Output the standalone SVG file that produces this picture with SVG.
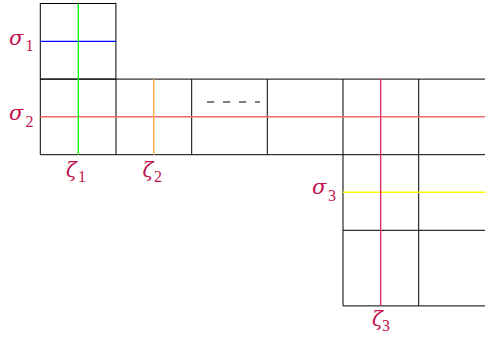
<svg xmlns="http://www.w3.org/2000/svg" width="485" height="339" viewBox="0 0 485 339">
<style>
.g{stroke:#000;stroke-width:1;fill:none}
.lbl{font-family:"Liberation Serif","DejaVu Serif",serif;fill:#C0124E}
.sg{font-family:"DejaVu Serif",serif;font-style:italic;font-size:21px}
.z{font-family:"DejaVu Serif",serif;font-style:italic;font-size:20px}
.s{font-size:16px}
</style>
<rect width="485" height="339" fill="#fff"/>
<g id="grid">
  <g id="top-cell"><rect class="g" x="40.3" y="3.5" width="75.6" height="75.6"/></g>
  <g id="row">
    <path class="g" d="M40.3 79.1H494.3M40.3 154.7H494.3M40.3 79.1V154.7M116 79.1V154.7M191.7 79.1V154.7M267.3 79.1V154.7M343 79.1V154.7M418.7 79.1V154.7"/>
  </g>
  <g id="lower-block">
    <path class="g" d="M343 154.7V305.9M418.7 154.7V305.9M343 230.3H494.3M343 305.9H494.3"/>
  </g>
</g>
<g id="connectors" fill="none">
  <line x1="40.3" y1="41.3" x2="116" y2="41.3" stroke="#0000FF" stroke-width="1.3"/>
  <line x1="40.3" y1="116.7" x2="485" y2="116.7" stroke="#F26B6B" stroke-width="1.5"/>
  <line x1="343" y1="192.3" x2="485" y2="192.3" stroke="#FFFF00" stroke-width="1.5"/>
  <line x1="78.3" y1="3.5" x2="78.3" y2="154.7" stroke="#00FF00" stroke-width="1.3"/>
  <line x1="153.7" y1="79.1" x2="153.7" y2="154.7" stroke="#FFAA55" stroke-width="1.5"/>
  <line x1="380.7" y1="79.1" x2="380.7" y2="305.9" stroke="#D22860" stroke-width="1.3"/>
  <line x1="207" y1="102" x2="260" y2="102" stroke="#555" stroke-width="1.3" stroke-dasharray="7.3 8.7"/>
</g>
<g id="labels" class="lbl">
  <g id="sigma1"><text class="sg" x="9" y="44.5">σ</text><text class="s" x="25.5" y="51">1</text></g>
  <g id="sigma2"><text class="sg" x="9" y="120">σ</text><text class="s" x="25.5" y="126.6">2</text></g>
  <g id="sigma3"><text class="sg" x="312" y="194">σ</text><text class="s" x="328" y="201">3</text></g>
  <g id="zeta1"><text class="z" x="66" y="177">ζ</text><text class="s" x="78" y="181.5">1</text></g>
  <g id="zeta2"><text class="z" x="142.5" y="177">ζ</text><text class="s" x="154" y="181.5">2</text></g>
  <g id="zeta3"><text class="z" x="372" y="326">ζ</text><text class="s" x="382" y="330.5">3</text></g>
</g>
</svg>
